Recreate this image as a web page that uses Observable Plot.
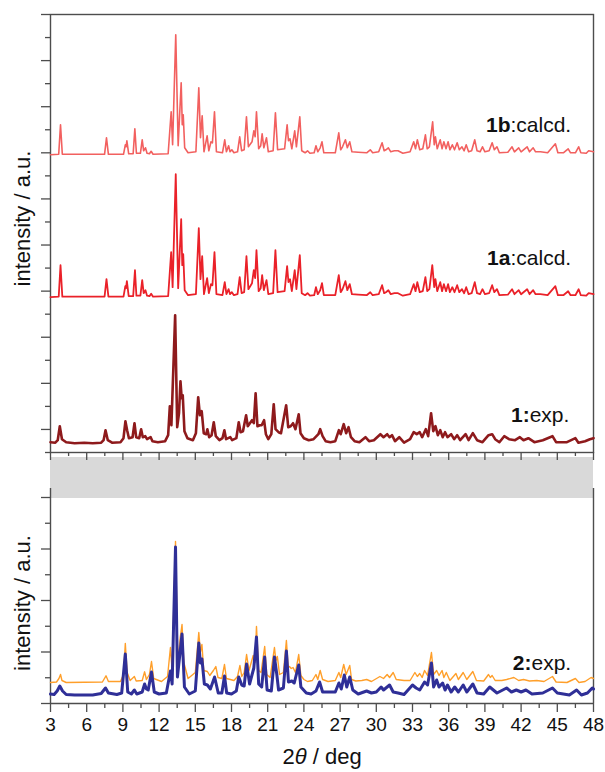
<!DOCTYPE html>
<html><head><meta charset="utf-8">
<script src="https://cdn.jsdelivr.net/npm/d3@7"></script>
<script src="https://cdn.jsdelivr.net/npm/@observablehq/plot@0.6"></script>
<style>
body{margin:0;background:#fff;}
#chart{width:605px;}
#chart svg{display:block;}
#chart svg.topPanel{position:relative;z-index:2;}
</style></head><body><div id="chart"></div>
<script>
// ---- data: [2theta (deg), intensity (a.u., above each pattern's own baseline)] ----
const s1b = [[3,0],[3.68,0.5],[3.83,30],[3.98,0.5],[7.48,0.5],[7.64,17],[7.8,0.5],[9.05,0.5],[9.2,10],[9.26,8],[9.33,14],[9.48,1],[9.85,1],[9.99,26],[10.12,1.5],[10.45,1.5],[10.6,15],[10.72,4],[10.87,7],[11.0,1.5],[11.2,1],[11.34,3.5],[11.5,0.5],[12.75,1],[13.0,43],[13.12,10],[13.38,120],[13.58,9],[13.83,72],[13.92,30],[14.0,40],[14.12,7],[14.4,2],[15.05,3],[15.29,67],[15.43,17],[15.57,39],[15.72,3],[15.98,19],[16.12,4],[16.3,13],[16.42,12],[16.59,43],[16.75,3],[17.25,2],[17.44,15],[17.58,3],[17.76,9],[17.88,3],[18.03,5],[18.2,2],[18.5,3],[18.68,18],[18.84,4],[19.05,5],[19.24,38],[19.4,8],[19.7,13],[19.85,24],[19.96,18],[20.07,43],[20.25,6],[20.42,9],[20.54,21],[20.68,7],[20.9,17],[21.05,3],[21.45,4],[21.64,42],[21.82,5],[22.4,6],[22.61,30],[22.72,14],[22.85,16],[23.0,6],[23.24,24],[23.38,8],[23.66,38],[23.82,4],[24.1,2],[24.3,4],[24.5,1.5],[24.85,2],[25.0,9],[25.15,3],[25.35,7],[25.5,13],[25.65,2],[26.6,2],[26.89,22],[27.05,5],[27.2,8],[27.44,15],[27.6,7],[27.8,13],[27.98,3],[28.5,2.5],[29.2,2],[29.5,5],[29.7,2],[30.2,3],[30.48,12],[30.65,4],[30.8,5],[31.0,7],[31.2,3],[31.5,4],[31.8,4],[32.2,1.5],[32.8,3],[33.1,13],[33.25,6],[33.4,15],[33.6,5],[33.85,6],[34.07,20],[34.22,6],[34.4,8],[34.67,33],[34.8,10],[34.9,18],[35.05,6],[35.3,15],[35.45,6],[35.6,13],[35.78,6],[35.95,13],[36.1,5],[36.3,10],[36.48,5],[36.7,12],[36.88,5],[37.1,8],[37.28,4],[37.45,10],[37.65,3],[37.9,4],[38.16,15],[38.35,4],[38.6,3],[38.8,8],[39.0,3],[39.35,4],[39.6,12],[39.78,5],[40.0,8],[40.2,2],[40.9,2.5],[41.25,8],[41.45,3],[41.8,7],[42.0,3],[42.5,8],[42.7,3],[43.0,7],[43.2,3],[43.6,3],[44.2,2],[44.84,11],[45.05,2],[45.5,2],[45.9,6],[46.1,2],[46.5,2],[46.77,8],[46.95,2],[47.4,1.5],[47.6,4],[48,3]];

const s1a = [[3,0],[3.68,0.5],[3.83,32],[3.98,0.5],[7.48,0.5],[7.64,18],[7.8,0.5],[9.05,0.5],[9.2,11],[9.26,9],[9.33,16],[9.48,1],[9.85,1],[10.0,27],[10.12,1.5],[10.45,1.5],[10.6,17],[10.72,4],[10.87,7],[11.0,1.5],[11.2,1],[11.34,3.5],[11.5,0.5],[12.75,1],[13.0,45],[13.12,10],[13.38,123],[13.58,9],[13.83,78],[13.92,32],[14.0,43],[14.12,7],[14.4,2],[15.05,3],[15.29,69],[15.43,18],[15.57,41],[15.72,3],[15.98,19],[16.12,4],[16.3,13],[16.42,12],[16.59,45],[16.75,3],[17.25,2],[17.44,15],[17.58,3],[17.76,8],[17.88,3],[18.03,5],[18.2,2],[18.5,3],[18.68,20],[18.84,4],[19.05,5],[19.24,41],[19.4,8],[19.7,14],[19.85,27],[19.96,19],[20.07,47],[20.25,6],[20.42,9],[20.54,22],[20.68,7],[20.9,17],[21.05,3],[21.45,4],[21.64,47],[21.82,5],[22.4,6],[22.61,31],[22.72,15],[22.85,18],[23.0,6],[23.24,27],[23.38,8],[23.66,42],[23.82,4],[24.1,2],[24.3,4],[24.5,1.5],[24.85,2],[25.0,10],[25.15,3],[25.35,7],[25.5,14],[25.65,2],[26.6,2],[26.89,22],[27.05,5],[27.2,8],[27.44,16],[27.6,7],[27.8,13],[27.98,3],[28.5,2.5],[29.2,2],[29.5,5],[29.7,2],[30.2,3],[30.48,12],[30.65,4],[30.8,5],[31.0,7],[31.2,3],[31.5,4],[31.8,4],[32.2,1.5],[32.8,3],[33.1,13],[33.25,6],[33.4,15],[33.6,5],[33.85,6],[34.07,20],[34.22,6],[34.4,8],[34.64,32],[34.8,10],[34.9,18],[35.05,6],[35.3,15],[35.45,6],[35.6,13],[35.78,6],[35.95,13],[36.1,5],[36.3,10],[36.48,5],[36.7,12],[36.88,5],[37.1,8],[37.28,4],[37.45,10],[37.65,3],[37.9,4],[38.16,15],[38.35,4],[38.6,3],[38.8,8],[39.0,3],[39.35,4],[39.6,12],[39.78,5],[40.0,8],[40.2,2],[40.9,2.5],[41.25,8],[41.45,3],[41.8,7],[42.0,3],[42.5,8],[42.7,3],[43.0,7],[43.2,3],[43.6,3],[44.2,2],[44.84,11],[45.05,2],[45.5,2],[45.9,6],[46.1,2],[46.5,2],[46.77,8],[46.95,2],[47.4,1.5],[47.6,4],[48,3]];

const s1exp = [[3.0,1],[3.4,0.5],[3.6,3],[3.77,17],[3.95,4],[4.3,1],[5.0,0],[5.8,0.5],[6.5,0],[7.2,0.5],[7.4,3],[7.56,13],[7.75,3],[8.1,0.5],[8.8,1],[9.05,5],[9.21,22],[9.35,13],[9.5,5],[9.8,6],[9.96,20],[10.1,6],[10.35,5],[10.51,14],[10.65,6],[10.85,7],[11.0,4],[11.3,6],[11.45,2],[11.9,1],[12.5,2],[12.75,8],[12.89,37],[13.02,18],[13.33,128],[13.5,16],[13.65,30],[13.77,62],[13.87,45],[13.96,48],[14.1,12],[14.35,5],[14.8,3],[15.05,10],[15.24,46],[15.38,28],[15.53,32],[15.7,10],[15.9,9],[16.0,14],[16.15,6],[16.35,8],[16.53,21],[16.7,7],[17.0,3],[17.25,5],[17.41,13],[17.55,4],[17.9,6],[18.05,3],[18.4,5],[18.6,21],[18.75,11],[18.95,12],[19.21,28],[19.35,17],[19.7,23],[19.85,20],[20.0,50],[20.15,17],[20.35,18],[20.5,18],[20.7,23],[20.85,9],[21.05,4],[21.3,9],[21.5,39],[21.65,14],[21.9,11],[22.1,10],[22.53,38],[22.7,16],[22.9,17],[23.1,20],[23.3,14],[23.57,29],[23.72,10],[24.0,5],[24.4,3],[24.8,4],[25.2,9],[25.35,14],[25.55,7],[25.8,2],[26.2,1],[26.6,2],[26.9,13],[27.05,9],[27.3,19],[27.5,10],[27.7,16],[27.9,6],[28.2,2],[28.6,1],[29.1,6],[29.4,2],[29.8,3],[30.34,9],[30.6,6],[30.9,9],[31.1,6],[31.3,8],[31.55,2],[31.9,6],[32.3,0.5],[32.8,4],[33.1,11],[33.35,9],[33.6,11],[33.8,6],[34.1,14],[34.3,7],[34.54,30],[34.72,12],[34.9,17],[35.1,8],[35.3,13],[35.5,6],[35.7,11],[35.9,6],[36.2,9],[36.45,4],[36.7,8],[36.95,3],[37.4,9],[37.65,3],[38.0,10],[38.35,3],[38.8,1],[39.3,8],[39.6,9],[39.85,4],[40.2,1],[40.6,7],[41.0,4],[41.5,3],[41.9,6],[42.2,3],[42.6,5],[43.1,1],[43.8,3],[44.6,7],[44.9,1],[45.8,1],[46.5,5],[46.75,0.5],[47.3,2],[47.7,4],[48,5]];

const s2orange = [[3.0,0],[3.5,0.5],[3.7,4],[3.83,8],[3.95,2],[4.3,0],[7.3,0.5],[7.6,6.7],[7.8,1],[8.8,1],[9.05,8],[9.2,39],[9.35,10],[9.6,2],[9.95,6],[10.1,1.5],[10.6,2],[10.8,10.7],[10.95,3],[11.2,8],[11.37,21],[11.55,4],[12.2,1],[12.7,6],[12.94,35],[13.08,12],[13.36,141],[13.55,18],[13.75,45],[13.9,58],[14.05,20],[14.4,4],[15.0,10],[15.29,50],[15.42,30],[15.55,38],[15.7,12],[16.0,11],[16.2,7],[16.5,12],[16.7,16],[16.88,5],[17.2,4],[17.42,18],[17.58,4],[17.9,3],[18.2,2],[18.5,6],[18.7,17],[18.85,6],[19.05,10],[19.25,28],[19.45,12],[19.8,27],[19.95,20],[20.07,56],[20.25,12],[20.45,10],[20.75,36],[20.92,8],[21.2,5],[21.56,35],[21.68,22],[21.8,26],[21.98,8],[22.3,10],[22.55,42],[22.7,15],[22.8,16],[22.95,14],[23.1,15],[23.3,10],[23.57,28],[23.75,7],[24.0,3],[24.3,1],[24.7,2],[25.0,8],[25.15,3],[25.35,12],[25.55,3],[26.0,1],[26.6,2],[26.9,10],[27.05,5],[27.3,18],[27.5,8],[27.8,17],[27.95,3],[28.3,1.5],[28.8,2],[29.2,3],[29.6,1],[30.3,6],[30.6,4],[30.9,8],[31.1,5],[31.4,10],[31.65,3],[32.3,2],[32.8,2],[33.2,10],[33.4,6],[33.6,9],[33.8,5],[34.0,12],[34.25,7],[34.57,30],[34.75,8],[35.0,12],[35.2,7],[35.45,12],[35.6,5],[35.8,10],[36.1,2],[36.6,9],[36.8,3],[37.2,10],[37.5,3],[38.0,11],[38.3,2],[38.9,1.5],[39.3,8],[39.45,5],[39.6,7],[39.85,2],[40.4,2],[40.8,3],[41.4,5],[41.8,2],[42.2,3],[42.7,1.5],[43.3,2],[43.9,1],[44.6,6],[44.9,0.5],[45.8,0],[46.5,4],[46.8,0],[47.3,1],[47.8,5],[48,4]];

const s2blue = [[3.0,1],[3.3,0.5],[3.55,4],[3.77,9],[4.0,4],[4.3,0.5],[5.0,0],[6.5,0],[7.2,1.5],[7.56,7],[7.8,2],[8.5,0.5],[8.9,2],[9.2,41],[9.4,3],[9.7,1],[9.95,5],[10.15,1],[10.6,3],[10.8,11],[10.95,6],[11.1,5],[11.37,23],[11.6,3],[12.0,1],[12.6,2],[12.94,24],[13.08,11],[13.36,148],[13.52,18],[13.9,61],[14.1,8],[14.5,1],[15.0,4],[15.29,52],[15.42,32],[15.55,36],[15.75,11],[16.0,10],[16.25,6],[16.6,18],[16.9,2],[17.2,2],[17.42,19],[17.6,2],[18.0,1],[18.4,4],[18.6,18],[18.85,10],[19.05,9],[19.25,31],[19.5,11],[19.85,27],[20.07,58],[20.25,11],[20.5,8],[20.75,38],[20.95,5],[21.3,4],[21.56,38],[21.75,21],[21.9,5],[22.3,7],[22.55,44],[22.72,13],[23.0,14],[23.2,12],[23.57,30],[23.75,8],[24.2,2],[24.6,1],[25.0,4],[25.3,13],[25.55,3],[26.0,3],[26.6,3],[26.9,12],[27.1,6],[27.35,20],[27.55,8],[27.8,18],[28.05,5],[28.5,1],[29.2,4],[29.6,2],[30.0,3],[30.4,8],[30.6,5],[31.1,10],[31.4,3],[31.8,2],[32.3,0.5],[33.0,10],[33.3,7],[33.6,5],[34.0,13],[34.25,10],[34.57,32],[34.75,8],[35.0,15],[35.2,8],[35.5,12],[35.7,5],[35.9,10],[36.2,3],[36.5,8],[36.8,3],[37.2,10],[37.5,3],[38.0,11],[38.35,2],[38.9,1],[39.4,8],[39.7,5],[40.0,2],[40.8,7],[41.2,3],[41.6,5],[42.0,3],[42.4,5],[42.9,1],[43.8,2],[44.6,7],[45.0,2],[46.0,0],[46.6,5],[47.0,0],[47.5,2],[47.9,7],[48,6]];

const xTickLabels = [3,6,9,12,15,18,21,24,27,30,33,36,39,42,45,48];
const xMinorTicks = [4.5,7.5,10.5,13.5,16.5,19.5,22.5,25.5,28.5,31.5,34.5,37.5,40.5,43.5,46.5];
const labelsTop = [
  {bold:"1b", rest:":calcd.", x:46.15, y:327},
  {bold:"1a", rest:":calcd.", x:46.15, y:194},
  {bold:"1:", rest:"exp.", x:46.0, y:37}
];
const labelsBottom = [{bold:"2:", rest:"exp.", x:46.15, y:40}];
const yTitle = "intensity / a.u.";
const xTitle = "2θ / deg";

// ---- layout / style ----
const FONT = "'Liberation Sans', Arial, Helvetica, sans-serif";
const AX = "#4d4d4d";
const TOP_H = 438, BOT_H = 215;              // y-domain extents (a.u.)
const off1b = 297.7, off1a = 155.3, off1 = 9.3; // stacking offsets
const offOr = 21, offBl = 8.5;
const shift = (arr, o) => arr.map(([x, y]) => ({x, y: y + o}));
const topMajor = d3.range(1, 20, 2).map(k => k * TOP_H / 19);
const topMinor = d3.range(0, 20, 2).map(k => k * TOP_H / 19);
const botStep = 25.75;
const botMajor = d3.range(0, 9, 2).map(k => k * botStep);
const botMinor = d3.range(1, 9, 2).map(k => k * botStep);
const blank = () => "";

const topPlot = Plot.plot({
  width: 605, height: 455, marginTop: 14, marginBottom: 3, marginLeft: 50, marginRight: 12,
  className: "topPanel",
  x: {domain: [3, 48], label: null},
  y: {domain: [0, TOP_H], label: null},
  style: {fontFamily: FONT, background: "white", overflow: "visible"},
  marks: [
    Plot.axisX(xTickLabels, {tickSize: 8, tickFormat: blank, stroke: AX, strokeWidth: 1.3, label: null}),
    Plot.axisX(xMinorTicks, {tickSize: 4, tickFormat: blank, stroke: AX, strokeWidth: 1.3, label: null}),
    Plot.axisY(topMajor, {tickSize: 9, tickFormat: blank, stroke: AX, strokeWidth: 1.3, label: null}),
    Plot.axisY(topMinor, {tickSize: 5, tickFormat: blank, stroke: AX, strokeWidth: 1.3, label: null}),
    Plot.frame({stroke: AX, strokeWidth: 1.4}),
    Plot.line(shift(s1exp, off1), {x: "x", y: "y", stroke: "#8e1a1c", strokeWidth: 2.6, strokeLinejoin: "round"}),
    Plot.line(shift(s1a, off1a), {x: "x", y: "y", stroke: "#ea2129", strokeWidth: 1.8, strokeLinejoin: "round"}),
    Plot.line(shift(s1b, off1b), {x: "x", y: "y", stroke: "#f2605f", strokeWidth: 1.6, strokeLinejoin: "round"}),
    Plot.text(labelsTop, {x: "x", y: "y", text: d => d.bold + d.rest, textAnchor: "end", fontSize: 21, fill: "#111"}),
    Plot.text([yTitle], {frameAnchor: "left", textAnchor: "middle", rotate: -90, dx: -28, dy: -15, fontSize: 22, fill: "#111"})
  ]
});

const bottomPlot = Plot.plot({
  width: 605, height: 317, marginTop: 33, marginBottom: 69, marginLeft: 50, marginRight: 12,
  x: {domain: [3, 48], label: null},
  y: {domain: [0, BOT_H], label: null},
  style: {fontFamily: FONT, background: "white", overflow: "visible"},
  marks: [
    Plot.rect([{x1: 3, x2: 48, y1: BOT_H - 10, y2: BOT_H + 31}], {x1: "x1", x2: "x2", y1: "y1", y2: "y2", fill: "#d9d9d9"}),
    Plot.ruleX([3, 48], {stroke: AX, strokeWidth: 1.4}),
    Plot.ruleY([0], {stroke: AX, strokeWidth: 1.4}),
    Plot.axisX(xTickLabels, {tickSize: 9, tickPadding: 5, fontSize: 19, stroke: AX, fill: "#111", strokeWidth: 1.3, label: null}),
    Plot.axisX(xMinorTicks, {tickSize: 5, tickFormat: blank, stroke: AX, strokeWidth: 1.3, label: null}),
    Plot.axisY(botMajor, {tickSize: 9, tickFormat: blank, stroke: AX, strokeWidth: 1.3, label: null}),
    Plot.axisY(botMinor, {tickSize: 5, tickFormat: blank, stroke: AX, strokeWidth: 1.3, label: null}),
    Plot.line(shift(s2orange, offOr), {x: "x", y: "y", stroke: "#ff9f2a", strokeWidth: 1.4, strokeLinejoin: "round"}),
    Plot.line(shift(s2blue, offBl), {x: "x", y: "y", stroke: "#2f2f97", strokeWidth: 3, strokeLinejoin: "round"}),
    Plot.text(labelsBottom, {x: "x", y: "y", text: d => d.bold + d.rest, textAnchor: "end", fontSize: 21, fill: "#111"}),
    Plot.text([yTitle], {frameAnchor: "left", textAnchor: "middle", rotate: -90, dx: -28, dy: 7, fontSize: 22, fill: "#111"}),
    Plot.text([xTitle], {frameAnchor: "bottom", dy: 60, fontSize: 22, fill: "#111"})
  ]
});

// rich text: bold compound numbers, italic theta
const rich = new Map();
[...labelsTop, ...labelsBottom].forEach(d => rich.set(d.bold + d.rest, `<tspan font-weight="bold">${d.bold}</tspan>${d.rest}`));
rich.set(xTitle, `2<tspan font-style="italic">θ</tspan> / deg`);
for (const svg of [topPlot, bottomPlot]) {
  d3.select(svg).selectAll("text").each(function () {
    const t = this.textContent;
    if (rich.has(t) && this.children.length === 0) this.innerHTML = rich.get(t);
  });
}
const c = document.getElementById("chart");
c.appendChild(topPlot);
c.appendChild(bottomPlot);
</script></body></html>
